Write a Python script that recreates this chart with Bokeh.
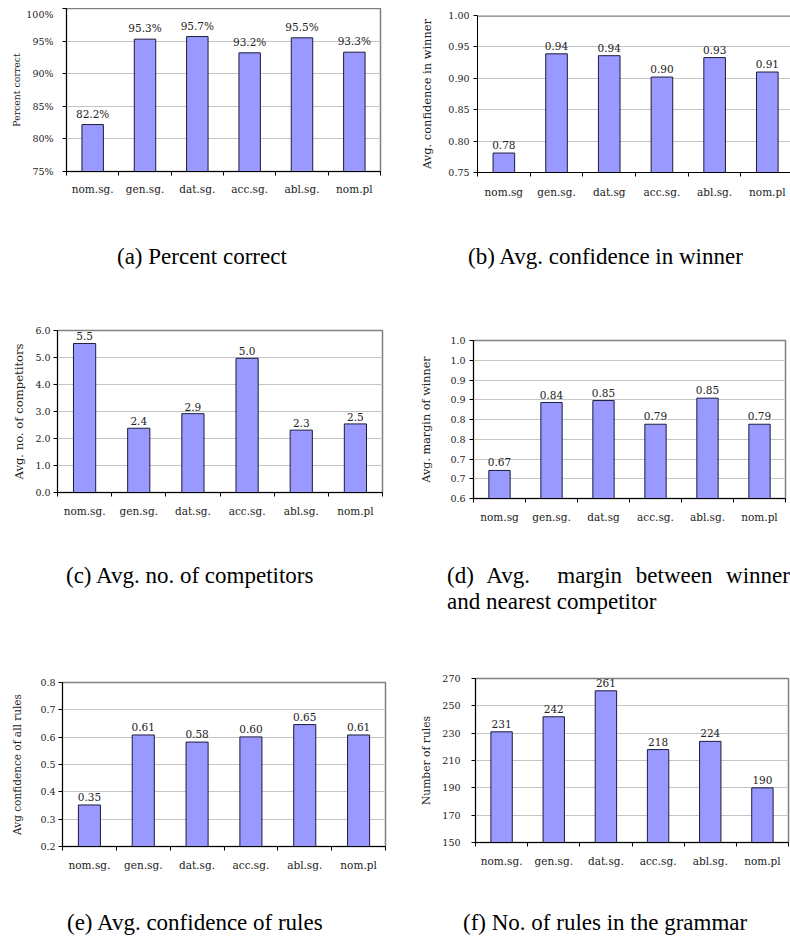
from bokeh.plotting import figure
from bokeh.models import FixedTicker, Span, Div, Range1d
from bokeh.layouts import row, column
from bokeh.core.properties import value
from bokeh.embed import file_html
from bokeh.resources import INLINE

# ---------------- data ----------------
cats_dot = ["nom.sg.", "gen.sg.", "dat.sg.", "acc.sg.", "abl.sg.", "nom.pl"]
cats_mixed = ["nom.sg", "gen.sg.", "dat.sg", "acc.sg.", "abl.sg.", "nom.pl"]

pct_correct = [82.2, 95.3, 95.7, 93.2, 95.5, 93.3]
pct_ticks = [75, 80, 85, 90, 95, 100]
pct_tick_labels = ["75%", "80%", "85%", "90%", "95%", "100%"]

conf_winner = [0.781, 0.939, 0.936, 0.902, 0.933, 0.910]
conf_ticks = [0.75, 0.80, 0.85, 0.90, 0.95, 1.00]
conf_tick_labels = ["0.75", "0.80", "0.85", "0.90", "0.95", "1.00"]

competitors = [5.52, 2.38, 2.92, 4.97, 2.31, 2.54]
comp_ticks = [0, 1, 2, 3, 4, 5, 6]
comp_tick_labels = ["0.0", "1.0", "2.0", "3.0", "4.0", "5.0", "6.0"]

margin_winner = [0.671, 0.843, 0.848, 0.788, 0.854, 0.788]
margin_ticks = [0.60, 0.65, 0.70, 0.75, 0.80, 0.85, 0.90, 0.95, 1.00]
margin_tick_labels = ["0.6", "0.7", "0.7", "0.8", "0.8", "0.9", "0.9", "1.0", "1.0"]

conf_rules = [0.352, 0.608, 0.582, 0.601, 0.646, 0.608]
rules_conf_ticks = [0.2, 0.3, 0.4, 0.5, 0.6, 0.7, 0.8]
rules_conf_tick_labels = ["0.2", "0.3", "0.4", "0.5", "0.6", "0.7", "0.8"]

num_rules = [231, 242, 261, 218, 224, 190]
rules_ticks = [150, 170, 190, 210, 230, 250, 270]
rules_tick_labels = ["150", "170", "190", "210", "230", "250", "270"]

captions = [
    "(a) Percent correct",
    "(b) Avg. confidence in winner",
    "(c) Avg. no. of competitors",
    "(d) Avg.  margin between winner",
    "and nearest competitor",
    "(e) Avg. confidence of rules",
    "(f) No. of rules in the grammar",
]

# ---------------- styles ----------------
CHART_FONT = "DejaVu Serif"
CAP_FONT = "'Liberation Serif', 'Times New Roman', Times, serif"
TXT = "#222222"
BAR_FILL = "#9999ff"
BAR_LINE = "#1c1c3c"
GRID = "#c4c4c4"
FRAME = "#808080"


def panel(cats, vals, labels, yt, ytl, ytitle, tsize, w, h, bl, br, bt, bb,
          lab_standoff, title_standoff, xlab_standoff, gap, x_end=None,
          right_border=True):
    n = len(cats)
    xs = [i + 0.5 for i in range(n)]
    p = figure(width=w, height=h, output_backend="svg", toolbar_location=None,
               title=None, frame_align=False,
               x_range=Range1d(0, n if x_end is None else x_end),
               y_range=Range1d(yt[0], yt[-1]),
               min_border_left=bl, min_border_right=br,
               min_border_top=bt, min_border_bottom=bb,
               background_fill_color="white", border_fill_color="white",
               outline_line_color=FRAME if right_border else None,
               outline_line_width=1.5)
    p.xgrid.visible = False
    yticker = FixedTicker(ticks=yt)
    p.yaxis.ticker = yticker
    p.ygrid.ticker = yticker
    p.ygrid.grid_line_color = GRID
    p.ygrid.grid_line_width = 1
    p.yaxis.major_label_overrides = dict(zip(yt, ytl))
    p.yaxis.major_tick_out = 4
    p.yaxis.major_tick_in = 0
    p.yaxis.minor_tick_line_color = None
    p.yaxis.axis_line_color = "black"
    p.yaxis.major_tick_line_color = "black"
    p.yaxis.major_label_text_font = CHART_FONT
    p.yaxis.major_label_text_font_size = "9.5px"
    p.yaxis.major_label_text_color = TXT
    p.yaxis.major_label_standoff = lab_standoff
    p.yaxis.axis_label = ytitle
    p.yaxis.axis_label_text_font = CHART_FONT
    p.yaxis.axis_label_text_font_style = "normal"
    p.yaxis.axis_label_text_font_size = tsize
    p.yaxis.axis_label_text_color = TXT
    p.yaxis.axis_label_standoff = title_standoff

    p.xaxis.ticker = FixedTicker(ticks=xs, minor_ticks=list(range(n + 1)))
    p.xaxis.major_label_overrides = dict(zip(xs, cats))
    p.xaxis.major_tick_out = 0
    p.xaxis.major_tick_in = 0
    p.xaxis.minor_tick_out = 4
    p.xaxis.minor_tick_in = 0
    p.xaxis.minor_tick_line_color = "black"
    p.xaxis.axis_line_color = "black"
    p.xaxis.major_label_text_font = CHART_FONT
    p.xaxis.major_label_text_font_size = "10.5px"
    p.xaxis.major_label_text_color = TXT
    p.xaxis.major_label_standoff = xlab_standoff

    if not right_border:
        p.add_layout(Span(location=yt[-1], dimension="width",
                          line_color=FRAME, line_width=2.5))

    p.vbar(x=xs, top=vals, bottom=yt[0], width=0.41,
           fill_color=BAR_FILL, line_color=BAR_LINE, line_width=1)
    p.text(x=xs, y=vals, text=labels, text_font=value(CHART_FONT),
           text_font_size="10.5px", text_color=TXT, text_align="center",
           text_baseline="alphabetic", y_offset=-gap)
    return p


def cap_div(html, w, h, pl, pt):
    inner = ('<div style="padding-left:%dpx;padding-top:%dpx;'
             'font-family:%s;font-size:23px;line-height:26px;color:#000;'
             'white-space:nowrap;">%s</div>' % (pl, pt, CAP_FONT, html))
    return Div(text=inner, width=w, height=h, margin=0)


fa = panel(cats_dot, pct_correct, ["%.1f%%" % v for v in pct_correct],
           pct_ticks, pct_tick_labels, "Percent correct", "9.3px",
           387, 192, 58, 15, 0, 29, 9, 1, 7, 11)
fb = panel(cats_mixed, conf_winner, ["%.2f" % v for v in conf_winner],
           conf_ticks, conf_tick_labels, "Avg. confidence in winner", "11.4px",
           395, 192, 82, 0, 7, 23, 4, 11, 9, 8, x_end=5.94, right_border=False)
fc = panel(cats_dot, competitors, ["%.1f" % v for v in competitors],
           comp_ticks, comp_tick_labels, "Avg. no. of competitors", "11.6px",
           387, 225, 49, 13, 30, 33, 3, 6, 8, 7)
fd = panel(cats_mixed, margin_winner, ["%.2f" % v for v in margin_winner],
           margin_ticks, margin_tick_labels, "Avg. margin of winner", "11.2px",
           395, 225, 78, 5, 40, 27, 4, 14, 8, 8)
fe = panel(cats_dot, conf_rules, ["%.2f" % v for v in conf_rules],
           rules_conf_ticks, rules_conf_tick_labels, "Avg confidence of all rules",
           "10.5px", 387, 245, 54, 10, 52, 29, 3, 14, 8, 8)
ff = panel(cats_dot, num_rules, ["%d" % v for v in num_rules],
           rules_ticks, rules_tick_labels, "Number of rules", "10.7px",
           395, 245, 80, 2, 48, 33, 11, 6, 8, 8)

ca = cap_div(captions[0], 387, 100, 109, 44)
cb = cap_div(captions[1], 395, 100, 73, 44)
cc = cap_div(captions[2], 387, 105, 58, 38)
cd_html = ('<div style="width:343px;text-align:justify;text-align-last:justify;'
           'white-space:pre;">%s</div><div>%s</div>' % (captions[3], captions[4]))
cd = cap_div(cd_html, 395, 105, 52, 38)
ce = cap_div(captions[5], 387, 60, 59, 35)
cf = cap_div(captions[6], 395, 60, 68, 35)

layout = column(row(fa, fb), row(ca, cb), row(fc, fd), row(cc, cd),
                row(fe, ff), row(ce, cf), margin=(8, 0, 0, 8))

open("out.html", "w").write(file_html(layout, INLINE))
